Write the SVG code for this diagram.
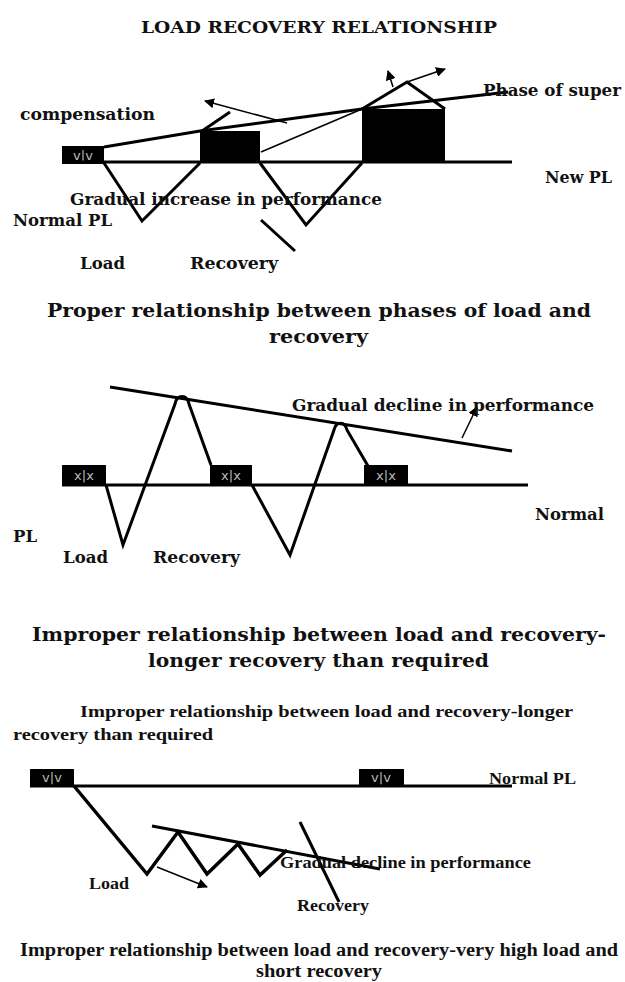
<svg xmlns="http://www.w3.org/2000/svg" width="625" height="982" viewBox="0 0 625 982">
<style>
.bk{font-family:"DejaVu Serif","Liberation Serif",serif;font-weight:bold;fill:#111}
.tm{font-family:"Liberation Serif","Times New Roman",serif;font-weight:bold;fill:#111}
.ln{fill:none;stroke:#000;stroke-width:3;stroke-linejoin:miter;stroke-linecap:butt}
.thk{fill:none;stroke:#000;stroke-width:3.5;stroke-linejoin:miter}
.thin{fill:none;stroke:#000;stroke-width:1.5}
.box{fill:#000}
.bt{font-family:"DejaVu Sans",sans-serif;font-size:13px;fill:#bbb}
</style>
<defs>
<marker id="ah2" viewBox="0 0 10 10" refX="9" refY="5" markerWidth="10" markerHeight="10" orient="auto" markerUnits="userSpaceOnUse">
<path d="M0,0 L10,5 L0,10 z" fill="#000"/>
</marker>
</defs>
<rect width="625" height="982" fill="#fff"/>

<!-- Section 1 -->
<g id="title1">
<text class="bk" x="141" y="33" font-size="17" textLength="356" lengthAdjust="spacingAndGlyphs">LOAD RECOVERY RELATIONSHIP</text>
</g>
<g id="d1-nodes">
<g id="d1-box1"><rect class="box" x="62" y="146" width="42" height="18"/><text class="bt" x="83" y="160" text-anchor="middle">v|v</text></g>
<g id="d1-box2"><rect class="box" x="200" y="131" width="60" height="32"/></g>
<g id="d1-box3"><rect class="box" x="362" y="109" width="83" height="54"/></g>
</g>
<g id="d1-connectors">
<line class="ln" x1="62" y1="162" x2="512" y2="162"/>
<polyline class="ln" points="104,163 142,221 200,163"/>
<polyline class="ln" points="260,163 306,225 362,163"/>
<polyline class="ln" points="104,147 200,131 362,109 508,92"/>
<line class="thin" x1="261" y1="152" x2="362" y2="109"/>
<polyline class="ln" points="362,109 407,82 445,109"/>
<line class="thin" x1="407" y1="82" x2="445" y2="69" marker-end="url(#ah2)"/>
<line class="thin" x1="393" y1="87" x2="388" y2="71" marker-end="url(#ah2)"/>
<line class="thin" x1="287" y1="123" x2="205" y2="101" marker-end="url(#ah2)"/>
<line class="ln" x1="202" y1="131" x2="230" y2="112"/>
<line class="ln" x1="261" y1="220" x2="295" y2="251"/>
</g>
<g id="d1-labels">
<text class="bk" x="20" y="120" font-size="16" textLength="135" lengthAdjust="spacingAndGlyphs">compensation</text>
<text class="bk" x="483" y="96" font-size="16" textLength="138" lengthAdjust="spacingAndGlyphs">Phase of super</text>
<text class="bk" x="545" y="183" font-size="16" textLength="67" lengthAdjust="spacingAndGlyphs">New PL</text>
<text class="bk" x="70" y="205" font-size="16" textLength="312" lengthAdjust="spacingAndGlyphs">Gradual increase in performance</text>
<text class="bk" x="13" y="226" font-size="16" textLength="99" lengthAdjust="spacingAndGlyphs">Normal PL</text>
<text class="bk" x="80" y="269" font-size="16" textLength="45" lengthAdjust="spacingAndGlyphs">Load</text>
<text class="bk" x="190" y="269" font-size="16" textLength="88" lengthAdjust="spacingAndGlyphs">Recovery</text>
</g>

<!-- Section 2 -->
<g id="title2">
<text class="bk" x="47" y="317" font-size="19" textLength="544" lengthAdjust="spacingAndGlyphs">Proper relationship between phases of load and</text>
<text class="bk" x="269" y="343" font-size="19" textLength="99" lengthAdjust="spacingAndGlyphs">recovery</text>
</g>
<g id="d2-nodes">
<g id="d2-box1"><rect class="box" x="62" y="465" width="44" height="20"/><text class="bt" x="84" y="480" text-anchor="middle">x|x</text></g>
<g id="d2-box2"><rect class="box" x="210" y="465" width="42" height="20"/><text class="bt" x="231" y="480" text-anchor="middle">x|x</text></g>
<g id="d2-box3"><rect class="box" x="364" y="465" width="44" height="20"/><text class="bt" x="386" y="480" text-anchor="middle">x|x</text></g>
</g>
<g id="d2-connectors">
<line class="ln" x1="62" y1="485" x2="528" y2="485"/>
<line class="ln" x1="110" y1="387" x2="512" y2="451"/>
<path class="ln" d="M106,485 L123,545 L175,404 C177,394 187,394 189,404 L211,465"/>
<path class="ln" d="M252,485 L290,555 L334,430 C336,421 345,421 347,430 L368,466"/>
<line class="thin" x1="462" y1="438" x2="477" y2="407" marker-end="url(#ah2)"/>
</g>
<g id="d2-labels">
<text class="bk" x="292" y="411" font-size="16" textLength="302" lengthAdjust="spacingAndGlyphs">Gradual decline in performance</text>
<text class="bk" x="535" y="520" font-size="16" textLength="69" lengthAdjust="spacingAndGlyphs">Normal</text>
<text class="bk" x="13" y="542" font-size="16" textLength="24" lengthAdjust="spacingAndGlyphs">PL</text>
<text class="bk" x="63" y="563" font-size="16" textLength="45" lengthAdjust="spacingAndGlyphs">Load</text>
<text class="bk" x="153" y="563" font-size="16" textLength="87" lengthAdjust="spacingAndGlyphs">Recovery</text>
</g>

<!-- Section 3 -->
<g id="title3">
<text class="bk" x="32" y="641" font-size="19" textLength="574" lengthAdjust="spacingAndGlyphs">Improper relationship between load and recovery-</text>
<text class="bk" x="148" y="667" font-size="19" textLength="341" lengthAdjust="spacingAndGlyphs">longer recovery than required</text>
<text class="tm" x="80" y="717" font-size="17" textLength="493" lengthAdjust="spacingAndGlyphs">Improper relationship between load and recovery-longer</text>
<text class="tm" x="13" y="740" font-size="17" textLength="200" lengthAdjust="spacingAndGlyphs">recovery than required</text>
</g>
<g id="d3-nodes">
<g id="d3-box1"><rect class="box" x="30" y="769" width="44" height="17"/><text class="bt" x="52" y="782" text-anchor="middle">v|v</text></g>
<g id="d3-box2"><rect class="box" x="359" y="769" width="45" height="17"/><text class="bt" x="381" y="782" text-anchor="middle">v|v</text></g>
</g>
<g id="d3-connectors">
<line class="ln" x1="30" y1="786" x2="512" y2="786"/>
<polyline class="thk" points="74,786 147,874 178,832 207,874 238,844 260,875 287,850"/>
<line class="ln" x1="152" y1="826" x2="380" y2="869"/>
<line class="ln" x1="300" y1="822" x2="339" y2="902"/>
<line class="thin" x1="157" y1="867" x2="207" y2="887" marker-end="url(#ah2)"/>
</g>
<g id="d3-labels">
<text class="tm" x="489" y="784" font-size="16" textLength="87" lengthAdjust="spacingAndGlyphs">Normal PL</text>
<text class="tm" x="89" y="889" font-size="16" textLength="40" lengthAdjust="spacingAndGlyphs">Load</text>
<text class="tm" x="280" y="868" font-size="16" textLength="251" lengthAdjust="spacingAndGlyphs">Gradual decline in performance</text>
<text class="tm" x="297" y="911" font-size="16" textLength="72" lengthAdjust="spacingAndGlyphs">Recovery</text>
</g>
<g id="caption4">
<text class="tm" x="20" y="956" font-size="18" textLength="598" lengthAdjust="spacingAndGlyphs">Improper relationship between load and recovery-very high load and</text>
<text class="tm" x="256" y="977" font-size="18" textLength="126" lengthAdjust="spacingAndGlyphs">short recovery</text>
</g>
</svg>
